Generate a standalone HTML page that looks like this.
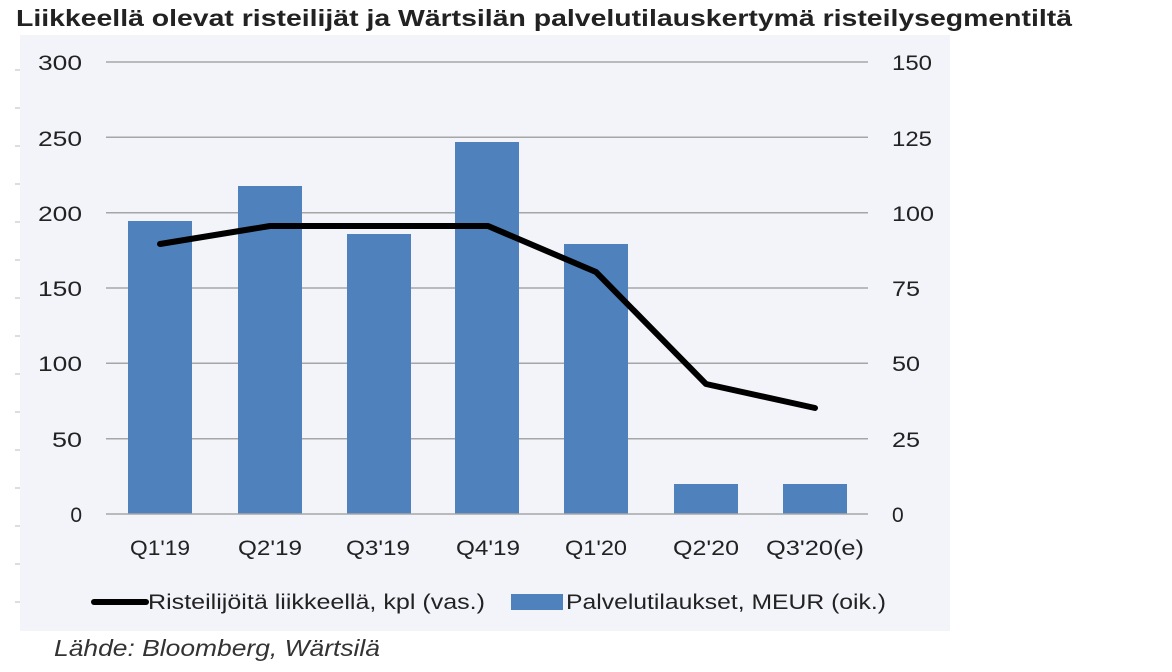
<!DOCTYPE html>
<html><head><meta charset="utf-8"><style>
body{margin:0;background:#fff;width:1172px;height:667px;overflow:hidden;font-family:"Liberation Sans",sans-serif}
</style></head><body>
<svg width="1172" height="667" xmlns="http://www.w3.org/2000/svg" font-family="Liberation Sans, sans-serif">
<text x="16" y="26" font-size="23" font-weight="bold" fill="#222" textLength="1056" lengthAdjust="spacingAndGlyphs">Liikkeellä olevat risteilijät ja Wärtsilän palvelutilauskertymä risteilysegmentiltä</text>
<rect x="20" y="35" width="930" height="596" fill="#f3f4fa"/>
<g stroke="#bbb" stroke-width="1">
<line x1="15" x2="20" y1="70" y2="70"/><line x1="15" x2="20" y1="108" y2="108"/><line x1="15" x2="20" y1="146" y2="146"/><line x1="15" x2="20" y1="184" y2="184"/><line x1="15" x2="20" y1="222" y2="222"/><line x1="15" x2="20" y1="260" y2="260"/><line x1="15" x2="20" y1="298" y2="298"/><line x1="15" x2="20" y1="336" y2="336"/><line x1="15" x2="20" y1="374" y2="374"/><line x1="15" x2="20" y1="412" y2="412"/><line x1="15" x2="20" y1="450" y2="450"/><line x1="15" x2="20" y1="488" y2="488"/><line x1="15" x2="20" y1="526" y2="526"/><line x1="15" x2="20" y1="564" y2="564"/><line x1="15" x2="20" y1="602" y2="602"/>
</g>
<g stroke="#a6a6a6" stroke-width="1.5">
<line x1="106" x2="868" y1="62" y2="62"/><line x1="106" x2="868" y1="137.3" y2="137.3"/><line x1="106" x2="868" y1="212.7" y2="212.7"/><line x1="106" x2="868" y1="288" y2="288"/><line x1="106" x2="868" y1="363.3" y2="363.3"/><line x1="106" x2="868" y1="438.7" y2="438.7"/>
</g>
<g fill="#4f81bd">
<rect x="128" y="221" width="64" height="293"/>
<rect x="238" y="186" width="64" height="328"/>
<rect x="347" y="234" width="64" height="280"/>
<rect x="455" y="142" width="64" height="372"/>
<rect x="564" y="244" width="64" height="270"/>
<rect x="674" y="484" width="64" height="30"/>
<rect x="783" y="484" width="64" height="30"/>
</g>
<line x1="106" x2="868" y1="514" y2="514" stroke="#a6a6a6" stroke-width="1.5"/>
<polyline points="160,244 270,226 378,226 488,226 596,272 706,384 815,408" fill="none" stroke="#000" stroke-width="6" stroke-linecap="round" stroke-linejoin="round"/>
<g font-size="21" fill="#222" text-anchor="end">
<text x="82" y="70" textLength="44" lengthAdjust="spacingAndGlyphs">300</text><text x="82" y="146" textLength="44" lengthAdjust="spacingAndGlyphs">250</text><text x="82" y="221" textLength="44" lengthAdjust="spacingAndGlyphs">200</text><text x="82" y="296" textLength="44" lengthAdjust="spacingAndGlyphs">150</text><text x="82" y="371" textLength="44" lengthAdjust="spacingAndGlyphs">100</text><text x="82" y="447" textLength="30" lengthAdjust="spacingAndGlyphs">50</text><text x="82" y="522">0</text>
</g>
<g font-size="21" fill="#222">
<text x="892" y="70" textLength="40" lengthAdjust="spacingAndGlyphs">150</text><text x="892" y="146" textLength="40" lengthAdjust="spacingAndGlyphs">125</text><text x="892" y="221" textLength="42" lengthAdjust="spacingAndGlyphs">100</text><text x="892" y="296" textLength="28" lengthAdjust="spacingAndGlyphs">75</text><text x="892" y="371" textLength="28" lengthAdjust="spacingAndGlyphs">50</text><text x="892" y="447" textLength="28" lengthAdjust="spacingAndGlyphs">25</text><text x="892" y="522">0</text>
</g>
<g font-size="21" fill="#222" text-anchor="middle">
<text x="160" y="555" textLength="60" lengthAdjust="spacingAndGlyphs">Q1'19</text><text x="270" y="555" textLength="64" lengthAdjust="spacingAndGlyphs">Q2'19</text><text x="378" y="555" textLength="64" lengthAdjust="spacingAndGlyphs">Q3'19</text><text x="488" y="555" textLength="64" lengthAdjust="spacingAndGlyphs">Q4'19</text><text x="596" y="555" textLength="62" lengthAdjust="spacingAndGlyphs">Q1'20</text><text x="706" y="555" textLength="66" lengthAdjust="spacingAndGlyphs">Q2'20</text><text x="815" y="555" textLength="98" lengthAdjust="spacingAndGlyphs">Q3'20(e)</text>
</g>
<line x1="94" x2="146" y1="602" y2="602" stroke="#000" stroke-width="6" stroke-linecap="round"/>
<text x="148" y="609" font-size="21" fill="#222" textLength="337" lengthAdjust="spacingAndGlyphs">Risteilijöitä liikkeellä, kpl (vas.)</text>
<rect x="511" y="594" width="52" height="16" fill="#4f81bd"/>
<text x="566" y="609" font-size="21" fill="#222" textLength="320" lengthAdjust="spacingAndGlyphs">Palvelutilaukset, MEUR (oik.)</text>
<text x="54" y="656" font-size="23" font-style="italic" fill="#333" textLength="326" lengthAdjust="spacingAndGlyphs">Lähde: Bloomberg, Wärtsilä</text>
</svg>
</body></html>
